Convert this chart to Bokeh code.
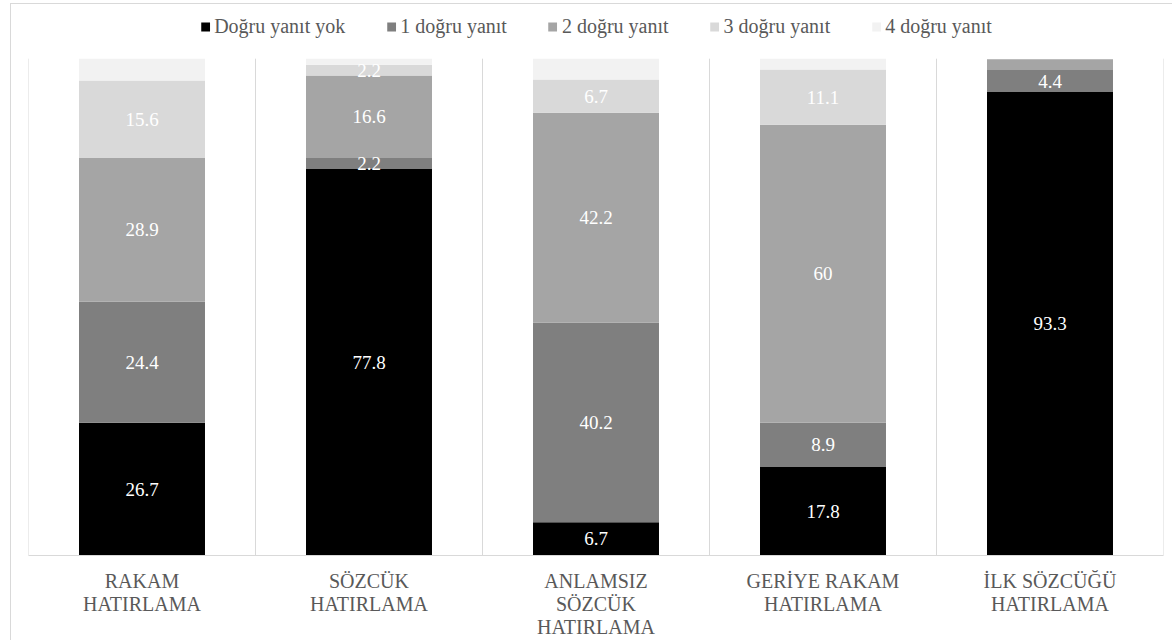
from bokeh.plotting import figure
from bokeh.models import ColumnDataSource, FixedTicker, Legend, LegendItem, LabelSet, Range1d
from bokeh.embed import file_html
from bokeh.resources import INLINE

# ---- data ----
categories = ["RAKAM\nHATIRLAMA", "SÖZCÜK\nHATIRLAMA", "ANLAMSIZ\nSÖZCÜK\nHATIRLAMA",
              "GERİYE RAKAM\nHATIRLAMA", "İLK SÖZCÜĞÜ\nHATIRLAMA"]
series_names = ["Doğru yanıt yok", "1 doğru yanıt", "2 doğru yanıt", "3 doğru yanıt", "4 doğru yanıt"]
dogru_yanit_yok = [26.7, 77.8, 6.7, 17.8, 93.3]
bir_dogru_yanit = [24.4, 2.2, 40.2, 8.9, 4.4]
iki_dogru_yanit = [28.9, 16.6, 42.2, 60.0, 2.2]
uc_dogru_yanit = [15.6, 2.2, 6.7, 11.1, 0.0]
dort_dogru_yanit = [4.4, 1.2, 4.2, 2.2, 0.0]
# which series get a data label (the 4th series and the thin one in the last bar are unlabeled)
labeled_series = [True, True, True, True, False]
unlabeled_cells = [(4, 2)]  # (category index, series index)

colors = ["#000000", "#7f7f7f", "#a5a5a5", "#d9d9d9", "#f2f2f2"]
FONT = "Liberation Serif"

series = [dogru_yanit_yok, bir_dogru_yanit, iki_dogru_yanit, uc_dogru_yanit, dort_dogru_yanit]
keys = ["s0", "s1", "s2", "s3", "s4"]
n = len(categories)
xs = [i + 0.5 for i in range(n)]

data = {"x": xs}
for k, s in zip(keys, series):
    data[k] = s
source = ColumnDataSource(data)

# label positions
lx, ly, lt = [], [], []
for ci in range(n):
    base = 0.0
    for si, s in enumerate(series):
        v = s[ci]
        if v > 0 and labeled_series[si] and (ci, si) not in unlabeled_cells:
            lx.append(xs[ci])
            ly.append(base + v / 2.0)
            lt.append(f"{v:g}")
        base += v
label_source = ColumnDataSource(dict(x=lx, y=ly, text=lt))

# frame extends above the 100% line to host the legend
p = figure(width=1162, height=637, output_backend="svg", toolbar_location=None,
           x_range=Range1d(0, n), y_range=Range1d(0, 109.7),
           min_border_left=17, min_border_right=10, min_border_top=6, min_border_bottom=86)
p.margin = (3, 0, 0, 10)
p.styles = {"border-left": "1px solid #d9d9d9", "border-top": "1px solid #d9d9d9"}
p.outline_line_color = None
p.background_fill_color = "white"
p.border_fill_color = "white"

# category separators (0..100 %)
bounds = list(range(n + 1))
p.segment(x0=bounds, y0=[0] * len(bounds), x1=bounds, y1=[100] * len(bounds),
          line_color="#d9d9d9", line_width=1)

renderers = p.vbar_stack(keys, x="x", width=0.555, source=source, color=colors,
                         line_color=None)

labels = LabelSet(x="x", y="y", text="text", source=label_source,
                  text_align="center", text_baseline="middle", text_color="white",
                  text_font=FONT, text_font_size="19px")
p.add_layout(labels)

# axes
p.yaxis.visible = False
p.ygrid.visible = False
p.xgrid.visible = False
p.xaxis.ticker = FixedTicker(ticks=xs)
p.xaxis.major_label_overrides = {x: c for x, c in zip(xs, categories)}
p.xaxis.major_tick_line_color = None
p.xaxis.minor_tick_line_color = None
p.xaxis.axis_line_color = "#d9d9d9"
p.xaxis.major_label_text_font = FONT
p.xaxis.major_label_text_font_size = "20px"
p.xaxis.major_label_text_color = "#595959"
p.xaxis.major_label_text_line_height = 1.05
p.xaxis.major_label_standoff = 8

legend = Legend(items=[LegendItem(label=nm, renderers=[r]) for nm, r in zip(series_names, renderers)],
                orientation="horizontal", location="top_center",
                label_text_font=FONT, label_text_font_size="20px",
                label_text_color="#595959", glyph_width=11, glyph_height=11,
                label_standoff=4, spacing=40, padding=0, margin=5, label_height=20,
                border_line_color=None, background_fill_alpha=0)
p.add_layout(legend)

open("out.html", "w").write(file_html(p, INLINE))
